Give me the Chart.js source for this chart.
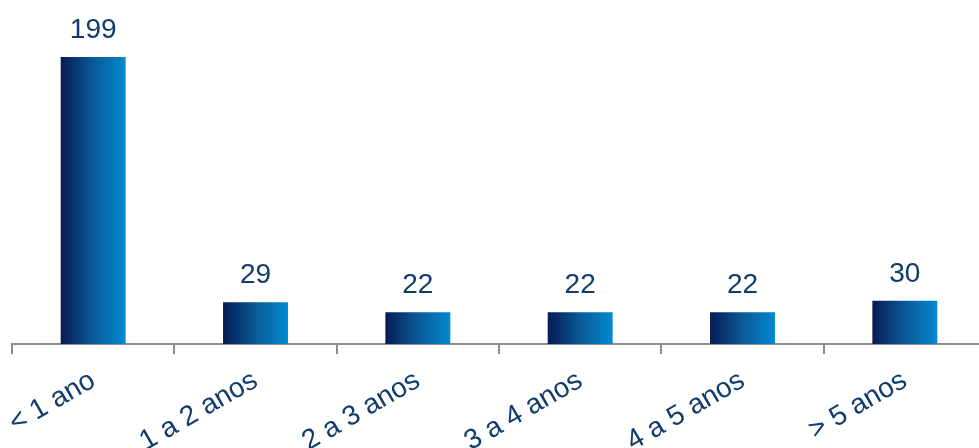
<!DOCTYPE html>
<html>
<head>
<meta charset="utf-8">
<script src="https://cdn.jsdelivr.net/npm/chart.js@4"></script>
<style>
  html, body { margin: 0; padding: 0; background: #fff; overflow: hidden; }
  #wrap { width: 1000px; height: 448px; }
</style>
</head>
<body>
<div id="wrap"><canvas id="myChart"></canvas></div>
<script>
var categories = ['< 1 ano', '1 a 2 anos', '2 a 3 anos', '3 a 4 anos', '4 a 5 anos', '> 5 anos'];
var values = [199, 29, 22, 22, 22, 30];

var textColor = '#103c6d';
var axisColor = '#8c8c8c';

// horizontal gradient across each bar, dark navy to bright blue
function barGradient(c) {
    var chart = c.chart;
    var area = chart.chartArea;
    if (!area) return '#0a4a8c';
    var x = chart.scales.x.getPixelForValue(c.dataIndex);
    var half = (area.width / categories.length) * 0.4 / 2;
    var g = chart.ctx.createLinearGradient(x - half, 0, x + half, 0);
    g.addColorStop(0, '#071b55');
    g.addColorStop(0.5, '#0a5a98');
    g.addColorStop(1, '#0389cf');
    return g;
}

var valueLabels = {
    id: 'valueLabels',
    afterDatasetsDraw: function(chart) {
        var ctx = chart.ctx;
        var meta = chart.getDatasetMeta(0);
        ctx.save();
        ctx.font = '28px "Liberation Sans", Arial, sans-serif';
        ctx.fillStyle = textColor;
        ctx.textAlign = 'center';
        ctx.textBaseline = 'alphabetic';
        meta.data.forEach(function(bar, i) {
            ctx.fillText(values[i], bar.x, bar.y - 19);
        });
        ctx.restore();
    }
};

var ctx = document.getElementById('myChart').getContext('2d');
var myChart = new Chart(ctx, {
    type: 'bar',
    data: {
        labels: categories,
        datasets: [{
            data: values,
            backgroundColor: barGradient,
            barPercentage: 0.4,
            categoryPercentage: 1
        }]
    },
    options: {
        responsive: true,
        maintainAspectRatio: false,
        animation: false,
        layout: {
            padding: { left: 12, right: 14, top: 0, bottom: 0 }
        },
        plugins: {
            legend: { display: false },
            tooltip: { enabled: false }
        },
        scales: {
            x: {
                afterFit: function(scale) { scale.height = 104; },
                grid: {
                    drawOnChartArea: false,
                    color: axisColor,
                    lineWidth: 2,
                    tickLength: 10
                },
                border: { display: true, color: axisColor, width: 2 },
                ticks: {
                    autoSkip: false,
                    minRotation: 30,
                    maxRotation: 30,
                    padding: 10,
                    color: textColor,
                    font: { family: '"Liberation Sans", Arial, sans-serif', size: 28 }
                }
            },
            y: {
                display: false,
                min: 0,
                max: 238.5
            }
        }
    },
    plugins: [valueLabels]
});
</script>
</body>
</html>
